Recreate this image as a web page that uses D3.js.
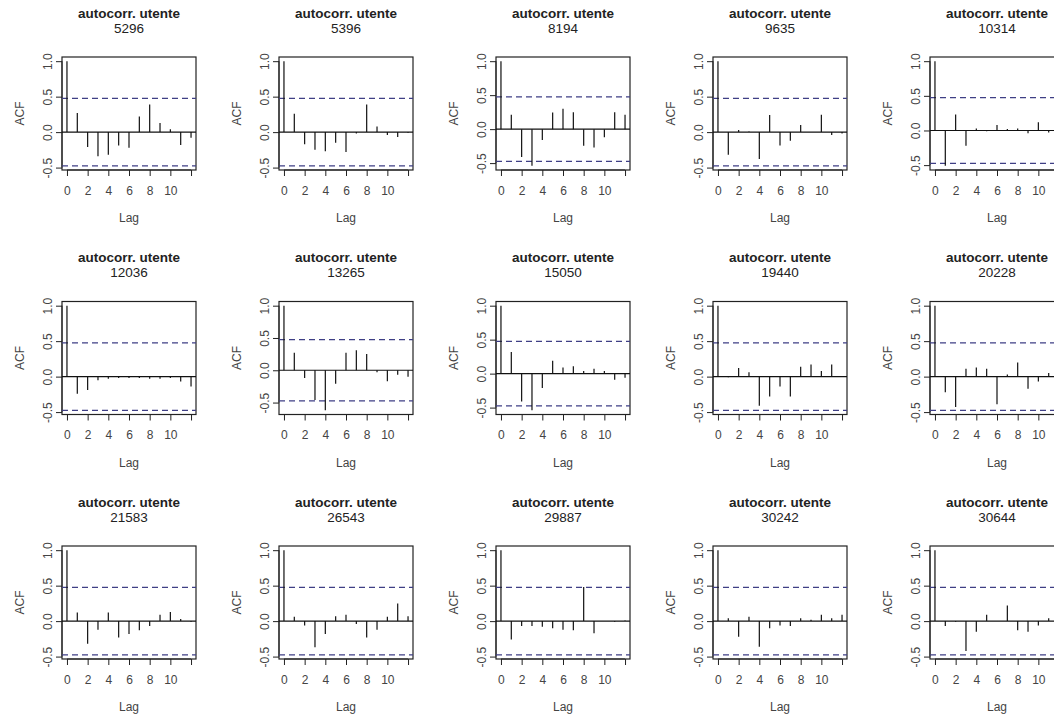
<!DOCTYPE html>
<meta charset="utf-8" />
<style>
  body {
    margin: 0;
    background: #fff;
    font-family: "Liberation Sans", Arial, "Helvetica Neue";
  }
  .chart {
    width: 1054px;
    height: 717px;
    overflow: hidden;
  }
  .title {
    font-size: 13.5px;
    font-weight: bold;
    fill: #222;
  }
  .subtitle {
    font-family: "Liberation Sans Narrow", "Liberation Sans", Arial;
    font-size: 13.5px;
    fill: #222;
  }
  .axis text {
    font-size: 12px;
    fill: #444;
  }
  .axis line,
  .axis path {
    stroke: #222;
  }
  .label {
    font-size: 12px;
    fill: #444;
  }
</style>
<body>
  <div class="chart"></div>

  <script src="https://d3js.org/d3.v7.min.js"></script>
  <script>
    // acf values, lag 0..12, one array per user
    const acf_5296 = [1, 0.27, -0.21, -0.34, -0.32, -0.19, -0.22, 0.22, 0.39, 0.13, 0.04, -0.18, -0.08];
    const acf_5396 = [1, 0.26, -0.17, -0.25, -0.27, -0.15, -0.28, -0.02, 0.39, 0.08, -0.04, -0.07, -0.01];
    const acf_8194 = [1, 0.21, -0.41, -0.54, -0.16, 0.245, 0.3, 0.25, -0.245, -0.27, -0.12, 0.25, 0.21];
    const acf_9635 = [1, -0.32, 0.03, 0.01, -0.38, 0.24, -0.19, -0.12, 0.1, 0.0, 0.245, -0.04, -0.02];
    const acf_10314 = [1, -0.51, 0.23, -0.22, 0.03, -0.01, 0.08, 0.02, 0.03, -0.04, 0.12, -0.03, 0.02];
    const acf_12036 = [1, -0.24, -0.19, -0.05, -0.03, -0.02, -0.02, -0.02, -0.03, -0.03, -0.02, -0.07, -0.14];
    const acf_13265 = [1, 0.27, -0.12, -0.46, -0.62, -0.21, 0.27, 0.31, 0.25, -0.03, -0.17, -0.07, -0.1];
    const acf_15050 = [1, 0.32, -0.41, -0.54, -0.21, 0.19, 0.09, 0.11, 0.04, 0.07, 0.04, -0.09, -0.06];
    const acf_19440 = [1, -0.01, 0.12, 0.06, -0.41, -0.28, -0.14, -0.28, 0.14, 0.17, 0.08, 0.17, 0.0];
    const acf_20228 = [1, -0.22, -0.43, 0.11, 0.13, 0.11, -0.39, 0.03, 0.2, -0.17, -0.07, 0.05, 0.02];
    const acf_21583 = [1, 0.12, -0.32, -0.12, 0.12, -0.23, -0.18, -0.13, -0.07, 0.09, 0.13, 0.03, -0.01];
    const acf_26543 = [1, 0.06, -0.06, -0.37, -0.18, 0.07, 0.09, -0.04, -0.23, -0.12, 0.06, 0.25, 0.07];
    const acf_29887 = [1, -0.26, -0.07, -0.07, -0.08, -0.1, -0.12, -0.13, 0.48, -0.17, 0.0, -0.01, 0.01];
    const acf_30242 = [1, 0.04, -0.22, 0.06, -0.36, -0.1, -0.06, -0.07, 0.04, 0.02, 0.09, 0.04, 0.09];
    const acf_30644 = [1, -0.07, -0.01, -0.42, -0.15, 0.09, 0.0, 0.22, -0.13, -0.15, -0.06, 0.04, 0.02];

    const users = ["5296", "5396", "8194", "9635", "10314", "12036", "13265", "15050",
      "19440", "20228", "21583", "26543", "29887", "30242", "30644"];
    const series = [acf_5296, acf_5396, acf_8194, acf_9635, acf_10314, acf_12036, acf_13265,
      acf_15050, acf_19440, acf_20228, acf_21583, acf_26543, acf_29887, acf_30242, acf_30644];

    const lags = [0, 1, 2, 3, 4, 5, 6, 7, 8, 9, 10, 11, 12];
    const xTicks = [0, 2, 4, 6, 8, 10, 12];
    const xTickLabels = ["0", "2", "4", "6", "8", "10", ""];
    const yTicks = [-0.5, 0, 0.5, 1];
    const yTickLabels = ["-0.5", "0.0", "0.5", "1.0"];
    const ciLimit = 0.475; // 1.96 / sqrt(n)

    // panel grid
    var colW = 217,
      rowH = 244.5,
      margin = { top: 57, left: 62 },
      width = 134,
      height = 113;

    var svg = d3
      .select(".chart")
      .append("svg")
      .attr("width", 1054)
      .attr("height", 717);

    // x scale is the same for all panels (4% padding like R)
    var pad = (lags[lags.length - 1] - lags[0]) * 0.04;
    var x = d3
      .scaleLinear()
      .domain([lags[0] - pad, lags[lags.length - 1] + pad])
      .range([0, width]);

    users.forEach(function (user, i) {
      var values = series[i];
      var col = i % 5,
        row = Math.floor(i / 5);

      var lo = Math.min(-ciLimit, d3.min(values)),
        hi = Math.max(ciLimit, d3.max(values)),
        yPad = (hi - lo) * 0.04;
      var y = d3.scaleLinear().domain([lo - yPad, hi + yPad]).range([height, 0]);

      var g = svg
        .append("g")
        .attr("transform", "translate(" + (col * colW + margin.left) + "," + (row * rowH + margin.top) + ")");

      // title, two lines
      g.append("text")
        .attr("class", "title")
        .attr("x", width / 2)
        .attr("y", -44)
        .attr("text-anchor", "middle")
        .attr("dominant-baseline", "central")
        .text("autocorr. utente");
      g.append("text")
        .attr("class", "subtitle")
        .attr("x", width / 2)
        .attr("y", -29)
        .attr("text-anchor", "middle")
        .attr("dominant-baseline", "central")
        .text(user);

      // axes
      var xAxis = g
        .append("g")
        .attr("class", "axis")
        .attr("transform", "translate(0," + height + ")")
        .call(
          d3.axisBottom(x)
            .tickValues(xTicks)
            .tickSize(6)
            .tickSizeOuter(0)
            .tickPadding(10)
            .tickFormat(function (d, k) { return xTickLabels[k]; })
        );
      xAxis.select(".domain").attr("d", "M" + x(xTicks[0]) + ",0H" + x(xTicks[xTicks.length - 1]));

      var yAxis = g
        .append("g")
        .attr("class", "axis")
        .call(
          d3.axisLeft(y)
            .tickValues(yTicks)
            .tickSize(6)
            .tickSizeOuter(0)
            .tickFormat(function (d, k) { return yTickLabels[k]; })
        );
      yAxis.select(".domain").attr("d", "M0," + y(yTicks[0]) + "V" + y(yTicks[yTicks.length - 1]));
      yAxis
        .selectAll(".tick text")
        .attr("x", 0)
        .attr("dy", null)
        .attr("text-anchor", "middle")
        .attr("dominant-baseline", "central")
        .attr("transform", "translate(-14,0) rotate(-90)");

      // box
      g.append("rect")
        .attr("width", width)
        .attr("height", height)
        .attr("fill", "none")
        .attr("stroke", "#222")
        .attr("stroke-width", 1.2);

      // zero line
      g.append("line")
        .attr("x1", 0)
        .attr("x2", width)
        .attr("y1", y(0))
        .attr("y2", y(0))
        .attr("stroke", "#111")
        .attr("stroke-width", 1.2);

      // confidence bounds
      [ciLimit, -ciLimit].forEach(function (c) {
        g.append("line")
          .attr("x1", 0)
          .attr("x2", width)
          .attr("y1", y(c))
          .attr("y2", y(c))
          .attr("stroke", "#3f3f85")
          .attr("stroke-width", 1.2)
          .attr("stroke-dasharray", "6,4");
      });

      // acf spikes
      g.selectAll(".spike")
        .data(values)
        .enter()
        .append("line")
        .attr("class", "spike")
        .attr("x1", function (d, k) { return x(lags[k]); })
        .attr("x2", function (d, k) { return x(lags[k]); })
        .attr("y1", y(0))
        .attr("y2", function (d) { return y(d); })
        .attr("stroke", "#111")
        .attr("stroke-width", 1.2);

      // axis labels
      g.append("text")
        .attr("class", "label")
        .attr("x", width / 2)
        .attr("y", height + 48)
        .attr("text-anchor", "middle")
        .attr("dominant-baseline", "central")
        .text("Lag");

      g.append("text")
        .attr("class", "label")
        .attr("text-anchor", "middle")
        .attr("dominant-baseline", "central")
        .attr("transform", "translate(-42," + height / 2 + ") rotate(-90)")
        .text("ACF");
    });
  </script>
</body>
